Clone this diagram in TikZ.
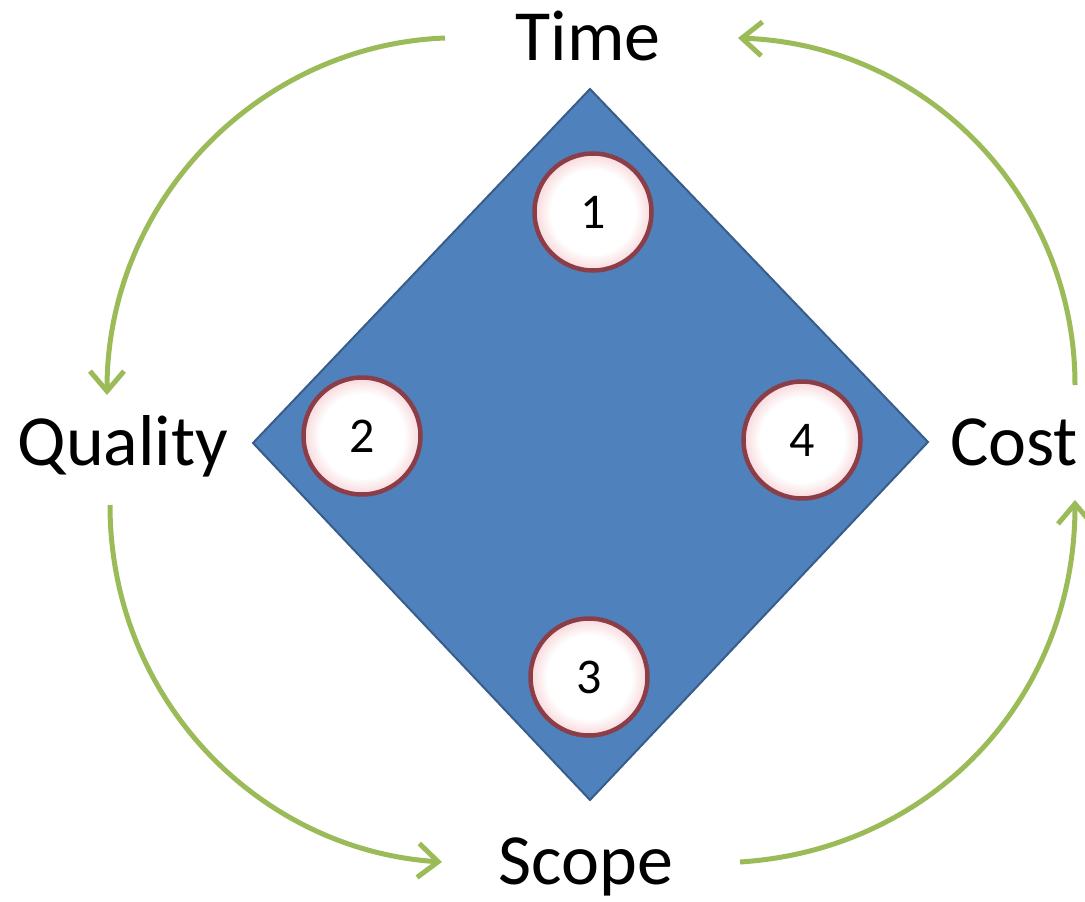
\documentclass[tikz,border=0pt]{standalone}
\usepackage{fontspec}
\setmainfont{Carlito}
\usetikzlibrary{arrows.meta}
\definecolor{dblue}{RGB}{79,129,189}
\definecolor{dblueline}{RGB}{56,93,138}
\definecolor{agreen}{RGB}{155,187,89}
\definecolor{cborder}{RGB}{140,62,72}
\definecolor{cpink}{RGB}{248,215,218}
\pgfdeclareradialshading{whitepink}{\pgfpoint{0bp}{0bp}}{color(0bp)=(white); color(18bp)=(white); color(25bp)=(cpink); color(50bp)=(cpink)}
\begin{document}
\begin{tikzpicture}[x=1pt,y=-1pt,
  lbl/.style={font=\fontsize{72}{80}\selectfont, anchor=base, inner sep=0pt},
  numc/.style={circle, minimum size=117pt, inner sep=0pt, draw=cborder, line width=4.5pt,
    shading=whitepink,
    font=\fontsize{50}{54}\selectfont},
  cyc/.style={draw=agreen, line width=5pt, -{Straight Barb[length=20pt,width=34pt,line width=5pt]}}
]
\useasboundingbox (0,0) rectangle (1085,902);
% diamond
\coordinate (dt) at (590,89);
\coordinate (dl) at (253,443);
\coordinate (dr) at (928,442);
\coordinate (db) at (590,800);
\draw[fill=dblue, draw=dblueline, line width=2pt, line join=miter] (dt) -- (dr) -- (db) -- (dl) -- cycle;
% circles
\node[numc] (c1) at (593,212) {1};
\node[numc] (c2) at (362,436) {2};
\node[numc] (c3) at (589,677) {3};
\node[numc] (c4) at (802,440) {4};
% labels
\node[lbl] (time) at (588,60) {Time};
\node[lbl] (quality) at (123,465) {Quality};
\node[lbl] (cost) at (1014,465) {Cost};
\node[lbl] (scope) at (586,884) {Scope};
% cycle arrows
\coordinate (a1s) at (445,38);
\coordinate (a1e) at (107,395);
\coordinate (a2s) at (110,505);
\coordinate (a2e) at (442,862);
\coordinate (a3s) at (740,862);
\coordinate (a3e) at (1075,500);
\coordinate (a4s) at (1075,385);
\coordinate (a4e) at (738,38);
\draw[cyc] (a1s) .. controls (260,45) and (107,200) .. (a1e);
\draw[cyc] (a2s) .. controls (110,700) and (260,850) .. (a2e);
\draw[cyc] (a3s) .. controls (930,850) and (1075,700) .. (a3e);
\draw[cyc] (a4s) .. controls (1075,200) and (930,45) .. (a4e);
\end{tikzpicture}
\end{document}
